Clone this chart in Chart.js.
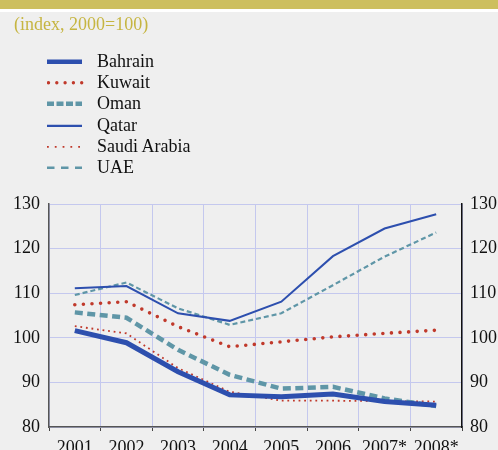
<!DOCTYPE html>
<html>
<head>
<meta charset="utf-8">
<script src="https://cdn.jsdelivr.net/npm/chart.js@4/dist/chart.umd.min.js"></script>
<style>
  html, body { margin: 0; padding: 0; background: #efefef; }
  #page { position: relative; width: 498px; height: 450px; overflow: hidden; background: #efefef; font-family: "Liberation Serif", "Times New Roman", serif; }
  #band { position: absolute; left: 0; top: 0; width: 498px; height: 9px; background: #cdbf5f; }
  #bandline { position: absolute; left: 0; top: 9px; width: 498px; height: 3px; background: #ffffff; }
  #sub { position: absolute; left: 14px; top: 12px; font-size: 18px; color: #c6b541; line-height: 24px; }
  #legend { position: absolute; left: 47px; top: 51px; }
  .row { position: relative; height: 21.2px; line-height: 21.2px; font-size: 18px; color: #111; white-space: nowrap; }
  .row svg { position: absolute; left: 0; top: 0; }
  .row span { position: absolute; left: 50px; top: 0; }
  #c { position: absolute; left: 0; top: 0; }
</style>
</head>
<body>
<div id="page">
  <canvas id="c" width="498" height="450"></canvas>
  <div id="band"></div>
  <div id="bandline"></div>
  <div id="sub">(index, 2000=100)</div>
  <div id="legend"></div>
</div>
<script>
const categories = ["2001", "2002", "2003", "2004", "2005", "2006", "2007*", "2008*"];
const bahrain = [101.6, 98.9, 92.4, 87.2, 86.8, 87.4, 85.7, 84.9];
const kuwait  = [107.4, 108.1, 102.5, 98.0, 99.1, 100.2, 101.0, 101.7];
const oman    = [105.7, 104.5, 97.3, 91.7, 88.6, 89.0, 86.4, 84.7];
const qatar   = [111.1, 111.6, 105.5, 103.8, 108.1, 118.3, 124.5, 127.7];
const saudi   = [102.6, 101.0, 93.2, 87.9, 85.9, 85.9, 85.8, 85.7];
const uae     = [109.6, 112.4, 106.6, 102.9, 105.5, 111.8, 118.2, 123.6];
const yTicks  = [80, 90, 100, 110, 120, 130];

const BLUE = '#2d4fae', RED = '#c0392b', TEAL = '#5f96a7';

const series = [
  { label: 'Bahrain',      data: bahrain, color: BLUE, width: 5,   dash: [],        cap: 'butt',  lg: { w: 4.5, dash: '' } },
  { label: 'Kuwait',       data: kuwait,  color: RED,  width: 3.6, dash: [0, 8.6],  cap: 'round', lg: { w: 3.4, dash: '0 8.3', cap: 'round' } },
  { label: 'Oman',         data: oman,    color: TEAL, width: 4.5, dash: [8, 4.5],  cap: 'butt',  lg: { w: 4.5, dash: '7 2.5' } },
  { label: 'Qatar',        data: qatar,   color: BLUE, width: 2,   dash: [],        cap: 'butt',  lg: { w: 2.2, dash: '' } },
  { label: 'Saudi Arabia', data: saudi,   color: RED,  width: 1.8, dash: [1.8, 3.8],cap: 'butt',  lg: { w: 1.8, dash: '1.8 6' } },
  { label: 'UAE',          data: uae,     color: TEAL, width: 2.2, dash: [5, 3],    cap: 'butt',  lg: { w: 2.4, dash: '7.5 6.5' } }
];

// HTML legend
const lg = document.getElementById('legend');
series.forEach(s => {
  const row = document.createElement('div');
  row.className = 'row';
  const dash = s.lg.dash ? ` stroke-dasharray="${s.lg.dash}"` : '';
  const cap = s.lg.cap ? ` stroke-linecap="${s.lg.cap}"` : '';
  const x1 = s.lg.cap === 'round' ? 1.5 : 0;
  row.innerHTML = `<svg width="40" height="21.2"><line x1="${x1}" y1="10.8" x2="35" y2="10.8" stroke="${s.color}" stroke-width="${s.lg.w}"${dash}${cap}/></svg><span>${s.label}</span>`;
  lg.appendChild(row);
});

const font = { family: '"Liberation Serif", "Times New Roman", serif', size: 18 };

new Chart(document.getElementById('c'), {
  type: 'line',
  data: {
    labels: categories,
    datasets: series.map(s => ({
      label: s.label,
      data: s.data,
      borderColor: s.color,
      backgroundColor: s.color,
      borderWidth: s.width,
      borderDash: s.dash,
      borderCapStyle: s.cap,
      pointRadius: 0,
      tension: 0,
      fill: false,
      yAxisID: 'y'
    }))
  },
  options: {
    responsive: false,
    animation: false,
    devicePixelRatio: 1,
    layout: { padding: { top: 204, left: 0, right: 0, bottom: 0 } },
    plugins: { legend: { display: false }, tooltip: { enabled: false } },
    scales: {
      x: {
        offset: true,
        grid: { display: true, offset: true, color: '#c4c8ee', lineWidth: 1, drawTicks: true, tickLength: 4, tickColor: '#444' },
        border: { display: true, color: '#555', width: 1.5 },
        ticks: { color: '#111', font: font, padding: 6, maxRotation: 0, autoSkip: false },
        afterFit: s => { s.height = 23; }
      },
      y: {
        position: 'left',
        min: 80, max: 130,
        afterBuildTicks: s => { s.ticks = yTicks.map(v => ({ value: v })); },
        grid: { color: '#c4c8ee', lineWidth: 1, drawTicks: false },
        border: { display: true, color: '#555', width: 1.5 },
        ticks: { color: '#111', font: font, padding: 9 },
        afterFit: s => { s.width = 49; }
      },
      y2: {
        position: 'right',
        min: 80, max: 130,
        afterBuildTicks: s => { s.ticks = yTicks.map(v => ({ value: v })); },
        grid: { display: false, drawTicks: false },
        border: { display: true, color: '#111', width: 1.5 },
        ticks: { color: '#111', font: font, padding: 8 },
        afterFit: s => { s.width = 36; }
      }
    }
  }
});
</script>
</body>
</html>
